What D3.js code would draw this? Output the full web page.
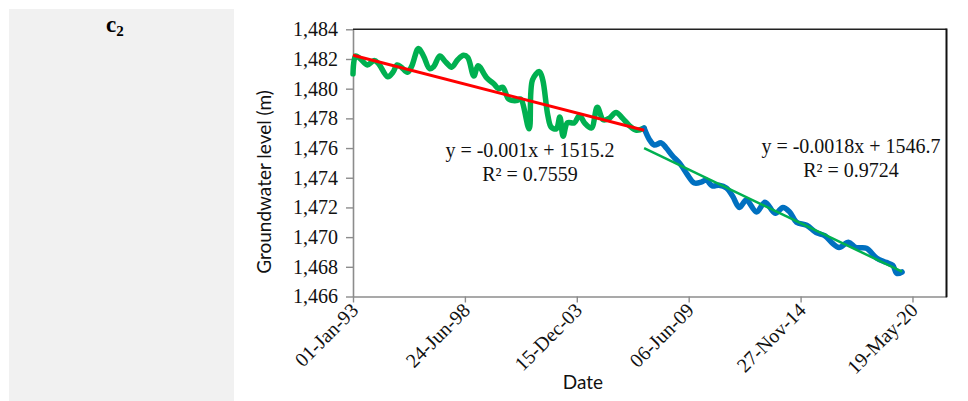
<!DOCTYPE html>
<html>
<head>
<meta charset="utf-8">
<script src="https://cdn.jsdelivr.net/npm/d3@7/dist/d3.min.js"></script>
<style>
  html, body { margin: 0; padding: 0; background: #fff; }
  svg { display: block; }
</style>
</head>
<body>
<svg id="chart" width="968" height="401"></svg>
<script>
// Groundwater level record, two periods, each with its own linear trend
const panelLabel = "c";
const panelSub = "2";

const periodOneDates = [
  "1993-01-01","1993-02-15","1993-05-01","1993-09-15","1994-01-15","1994-04-01",
  "1994-09-15","1994-12-15","1995-03-01","1995-05-15","1995-09-01","1995-11-15",
  "1996-03-15","1996-06-15","1996-10-01","1996-12-15","1997-04-01","1997-07-15",
  "1997-11-01","1998-02-15","1998-06-01","1998-08-15","1998-12-01","1999-02-15",
  "1999-07-15","1999-12-01","2000-02-15","2000-05-01","2000-08-15","2001-01-01",
  "2001-03-15","2001-08-15","2001-10-15","2002-02-15","2002-04-15","2002-07-15",
  "2002-09-15","2002-12-15","2003-02-15","2003-04-15","2003-07-01","2003-11-01",
  "2004-02-01","2004-05-01","2004-09-01","2004-12-15","2005-04-01","2005-07-15",
  "2005-11-15","2006-03-15","2006-07-15","2006-11-15","2007-04-01"
];
const periodOneLevels = [
  1481.0, 1482.2, 1482.05, 1481.6, 1481.9, 1481.7,
  1480.8, 1481.1, 1481.6, 1481.45, 1481.1, 1481.5,
  1482.7, 1482.2, 1481.35, 1481.5, 1482.2, 1481.8,
  1481.45, 1481.95, 1482.25, 1482.1, 1480.85, 1481.55,
  1480.75, 1480.3, 1480.0, 1480.1, 1479.3, 1479.2,
  1479.3, 1477.3, 1480.6, 1481.15, 1480.6, 1478.2,
  1477.4, 1477.3, 1478.1, 1476.8, 1477.7, 1477.7,
  1478.2, 1477.7, 1477.35, 1478.75, 1477.9, 1478.0,
  1478.4, 1478.0, 1477.5, 1477.2, 1477.35
];

const periodTwoDates = [
  "2007-04-01","2007-07-01","2007-10-01","2008-02-01","2008-05-01","2008-08-15",
  "2009-01-01","2009-05-15","2009-09-15","2010-01-15","2010-04-15","2010-08-01",
  "2010-12-01","2011-04-15","2011-08-01","2011-12-01","2012-04-01","2012-10-01",
  "2013-03-01","2013-09-01","2014-01-15","2014-05-15","2014-09-15","2015-03-15",
  "2015-09-01","2016-02-01","2016-06-15","2016-10-15","2017-04-01","2017-08-15",
  "2018-02-15","2018-08-15","2019-02-01","2019-06-01","2019-08-15","2019-11-15"
];
const periodTwoLevels = [
  1477.35, 1476.6, 1476.2, 1476.35, 1476.0, 1475.5,
  1474.95, 1474.2, 1473.65, 1473.7, 1473.85, 1473.45,
  1473.5, 1473.3, 1472.75, 1472.0, 1472.5, 1471.7,
  1472.35, 1471.6, 1472.0, 1471.7, 1471.0, 1470.8,
  1470.3, 1470.1, 1469.6, 1469.3, 1469.65, 1469.3,
  1469.25, 1468.6, 1468.3, 1468.1, 1467.55, 1467.65
];

// linear trends, x = spreadsheet day serial (days since 1899-12-30)
const trendSlopes = [-0.00097, -0.001805];
const trendIntercepts = [1515.2, 1546.7];
const trendR2 = [0.7559, 0.9724];

const xTickLabels = ["01-Jan-93","24-Jun-98","15-Dec-03","06-Jun-09","27-Nov-14","19-May-20"];
const xDomainLabels = ["01-Jan-93","17-Jan-22"];
const yTicks = [1466, 1468, 1470, 1472, 1474, 1476, 1478, 1480, 1482, 1484];

const yTitle = "Groundwater level (m)";
const xTitle = "Date";

// ---------------------------------------------------------------
const parseDay = d3.utcParse("%Y-%m-%d");
const parseTick = d3.utcParse("%d-%b-%y");
const serialZero = Date.UTC(1899, 11, 30);
const toSerial = d => (d.getTime() - serialZero) / 864e5;

const seriesOne = periodOneDates.map((d, i) => ({ date: parseDay(d), value: periodOneLevels[i] }));
const seriesTwo = periodTwoDates.map((d, i) => ({ date: parseDay(d), value: periodTwoLevels[i] }));

const svg = d3.select("#chart");
const plot = { left: 353, right: 946.5, top: 29.3, bottom: 296.5 };
const serif = "'Liberation Serif', 'Times New Roman', serif";
const sans = "Lato, 'Liberation Sans', sans-serif";

// left side panel
svg.append("rect")
  .attr("x", 9).attr("y", 9).attr("width", 225).attr("height", 392)
  .attr("fill", "#f1f1f1");
const lab = svg.append("text")
  .attr("x", 106).attr("y", 32)
  .attr("font-family", serif)
  .attr("font-weight", "bold").attr("font-size", 23).attr("fill", "#000");
lab.append("tspan").text(panelLabel);
lab.append("tspan").attr("font-size", 15).attr("dy", 4).text(panelSub);

const x = d3.scaleUtc()
  .domain(xDomainLabels.map(parseTick))
  .range([plot.left, plot.right]);
const y = d3.scaleLinear()
  .domain([d3.min(yTicks), d3.max(yTicks)])
  .range([plot.bottom, plot.top]);

// axes
const yAxis = svg.append("g")
  .attr("transform", `translate(${plot.left},0)`)
  .call(d3.axisLeft(y).tickValues(yTicks).tickFormat(d3.format(",")).tickSize(7).tickSizeOuter(0).tickPadding(8));
const xAxis = svg.append("g")
  .attr("transform", `translate(0,${plot.bottom})`)
  .call(d3.axisBottom(x).tickValues(xTickLabels.map(parseTick)).tickFormat((d, i) => xTickLabels[i]).tickSize(6).tickSizeOuter(0));

[yAxis, xAxis].forEach(g => {
  g.select(".domain").attr("stroke", "#8c8c8c").attr("stroke-width", 1.6);
  g.selectAll(".tick line").attr("stroke", "#8c8c8c").attr("stroke-width", 1.4);
  g.selectAll("text")
    .attr("font-family", serif)
    .attr("font-size", 20).attr("fill", "#111");
});
xAxis.selectAll(".tick text")
  .attr("text-anchor", "end")
  .attr("dy", null)
  .attr("y", null)
  .attr("transform", "translate(6,15) rotate(-45)");

// plot frame (top and right)
svg.append("line")
  .attr("x1", plot.left).attr("x2", plot.right).attr("y1", plot.top).attr("y2", plot.top)
  .attr("stroke", "#222").attr("stroke-width", 1.4);
svg.append("line")
  .attr("x1", plot.right).attr("x2", plot.right).attr("y1", plot.top - 0.7).attr("y2", plot.bottom + 0.8)
  .attr("stroke", "#111").attr("stroke-width", 2);

// series
const line = d3.line()
  .x(d => x(d.date)).y(d => y(d.value))
  .curve(d3.curveCatmullRom.alpha(0.5));

svg.append("path").datum(seriesOne)
  .attr("d", line).attr("fill", "none")
  .attr("stroke", "#00b050").attr("stroke-width", 5.5)
  .attr("stroke-linejoin", "round").attr("stroke-linecap", "round");
svg.append("path").datum(seriesTwo)
  .attr("d", line).attr("fill", "none")
  .attr("stroke", "#0070c0").attr("stroke-width", 5.5)
  .attr("stroke-linejoin", "round").attr("stroke-linecap", "round");

// trend lines over each period's date span
function trend(data, k) {
  return d3.extent(data, d => d.date)
    .map(t => ({ date: t, value: trendIntercepts[k] + trendSlopes[k] * toSerial(t) }));
}
const straight = d3.line().x(d => x(d.date)).y(d => y(d.value));

svg.append("path").datum(trend(seriesOne, 0))
  .attr("d", straight).attr("fill", "none")
  .attr("stroke", "#ff0000").attr("stroke-width", 3);
svg.append("path").datum(trend(seriesTwo, 1))
  .attr("d", straight).attr("fill", "none")
  .attr("stroke", "#00b050").attr("stroke-width", 2.5);

// equation labels (coefficients shown to 4 decimals, trailing zeros dropped)
const coef = v => String(+v.toFixed(4));
function eqText(k) {
  const s = trendSlopes[k];
  return [`y = ${s < 0 ? "-" : ""}${coef(Math.abs(s))}x + ${coef(trendIntercepts[k])}`,
          `R\u00b2 = ${trendR2[k].toFixed(4)}`];
}
function eqLabel(lines, cx, y0) {
  const t = svg.append("text")
    .attr("font-family", serif)
    .attr("font-size", 20).attr("fill", "#111").attr("text-anchor", "middle");
  lines.forEach((s, i) => t.append("tspan").attr("x", cx).attr("y", y0 + i * 24).text(s));
}
eqLabel(eqText(0), 530, 157);
eqLabel(eqText(1), 851, 153);

// axis titles
svg.append("text")
  .attr("transform", "translate(271,182) rotate(-90)")
  .attr("text-anchor", "middle")
  .attr("font-family", sans)
  .attr("font-size", 19).attr("fill", "#111")
  .text(yTitle);
svg.append("text")
  .attr("x", 583).attr("y", 389)
  .attr("text-anchor", "middle")
  .attr("font-family", sans)
  .attr("font-size", 19).attr("fill", "#111")
  .text(xTitle);
</script>
</body>
</html>
